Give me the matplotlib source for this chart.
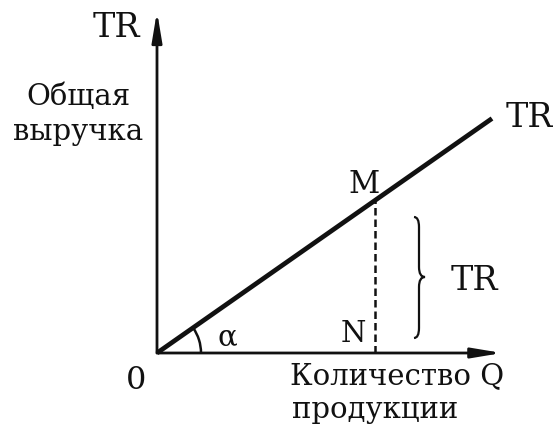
import numpy as np
import matplotlib
matplotlib.use("Agg")
import matplotlib.pyplot as plt
from matplotlib.patches import Arc, PathPatch
from matplotlib.path import Path

# Total revenue under a constant price: TR = P * Q
price = 0.7
q_line = [0.0, 10.0]
tr_line = [price * q for q in q_line]
q_m = 6.5
tr_m = price * q_m
q_axis_max = 10.3
tr_axis_max = 10.2

W, H = 553, 428
fig = plt.figure(figsize=(W / 100, H / 100), dpi=100)
ax = fig.add_axes([0, 0, 1, 1])
unit = 33.5
ox, oy = 157, 353
ax.set_xlim(-ox / unit, (W - ox) / unit)
ax.set_ylim(-(H - oy) / unit, oy / unit)
ax.axis("off")


def px(x, y):
    return ((x - ox) / unit, (oy - y) / unit)


serif = "DejaVu Serif"
black = "#111111"

# axes with arrowheads
arrow = dict(arrowstyle="-|>,head_length=1.8,head_width=0.3", lw=2.0, color=black,
             shrinkA=0, shrinkB=0)
ax.annotate("", xy=(0, tr_axis_max), xytext=(0, 0), arrowprops=arrow)
ax.annotate("", xy=(q_axis_max, 0), xytext=(0, 0), arrowprops=arrow)

# TR line
ax.plot(q_line, tr_line, color=black, lw=3.4, solid_capstyle="butt")

# dashed drop from M to N
ax.plot([q_m, q_m], [0, tr_m], color=black, lw=1.8, ls=(0, (3.0, 1.6)))

# angle alpha
r = 44 / unit
ang = np.degrees(np.arctan(price))
ax.add_patch(Arc((0, 0), 2 * r, 2 * r, theta1=0, theta2=ang, color=black, lw=1.8))

# curly brace marking TR at point M
x0, xm, xt = px(414, 0)[0], px(419, 0)[0], px(425, 0)[0]
yt, ymid, yb = px(0, 217)[1], px(0, 277)[1], px(0, 338)[1]
k = 0.3
verts = [(x0, yt),
         (xm, yt), (xm, yt - k),
         (xm, ymid + k),
         (xm, ymid), (xt, ymid),
         (xm, ymid), (xm, ymid - k),
         (xm, yb + k),
         (xm, yb), (x0, yb)]
codes = [Path.MOVETO,
         Path.CURVE3, Path.CURVE3,
         Path.LINETO,
         Path.CURVE3, Path.CURVE3,
         Path.CURVE3, Path.CURVE3,
         Path.LINETO,
         Path.CURVE3, Path.CURVE3]
ax.add_patch(PathPatch(Path(verts, codes), fill=False, lw=1.6, color=black))


def label(x, y, s, size):
    ax.text(*px(x, y), s, fontsize=size, family=serif, color=black,
            ha="center", va="baseline")


label(116, 37, "TR", 24)
label(78, 105, "Общая", 21)
label(78, 140, "выручка", 21)
label(529, 127, "TR", 24)
label(364, 193, "M", 22)
label(353, 342, "N", 21)
label(474, 290, "TR", 24)
label(227, 345, "α", 21)
label(136, 389, "0", 23)
label(397, 384, "Количество Q", 21)
label(375, 418, "продукции", 21)

fig.savefig("out.png", dpi=100)
